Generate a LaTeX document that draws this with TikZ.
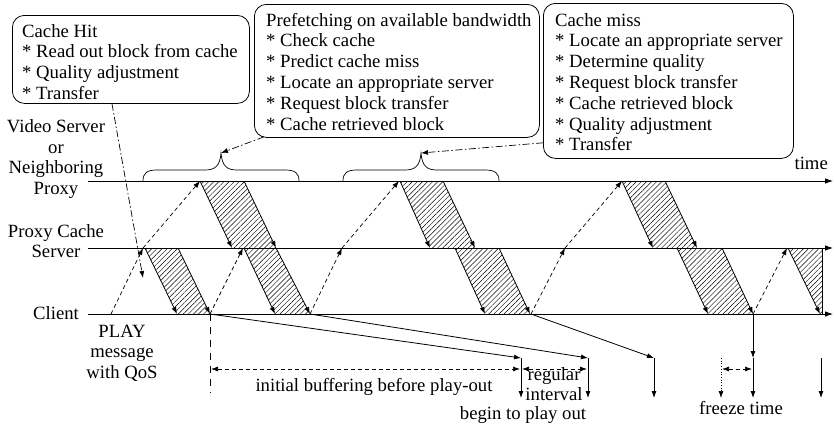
\documentclass[tikz,border=0pt]{standalone}
\usepackage{fontspec}
\setmainfont{Liberation Serif}
\usetikzlibrary{arrows.meta,patterns.meta,calc}

\begin{document}
\begin{tikzpicture}[x=1pt,y=-1pt,
  every node/.style={inner sep=0pt,font=\fontsize{18.7}{20.8}\selectfont},
  axis/.style={line width=0.8pt,-{Latex[length=8pt,width=5.5pt]}},
  edge/.style={line width=0.8pt,-{Latex[length=7pt,width=5pt]}},
  req/.style={line width=0.7pt,dash pattern=on 4pt off 3pt,-{Latex[length=7pt,width=5pt]}},
  callout/.style={line width=0.7pt,dash pattern=on 7pt off 2.5pt on 1.5pt off 2.5pt,-{Latex[length=7pt,width=5pt]}},
  span/.style={line width=0.7pt,dash pattern=on 4pt off 3pt,{Latex[length=7pt,width=5pt]}-{Latex[length=7pt,width=5pt]}},
  hatch/.style={pattern={Lines[angle=45,distance=3.6pt,line width=0.45pt]}},
  box/.style={draw,rounded corners=12pt,line width=0.8pt,anchor=north west},
  txt/.style={anchor=base west},
  lbl/.style={anchor=base}]
\useasboundingbox (0,0) rectangle (834,426);

% ---- callout boxes ----
\node[box,minimum width=237pt,minimum height=88pt] (hit) at (12,15) {};
\node[box,minimum width=285pt,minimum height=133pt] (pref) at (254,4) {};
\node[box,minimum width=250pt,minimum height=155pt] (miss) at (543,3) {};

\foreach \t [count=\i from 0] in {Cache Hit,* Read out block from cache,* Quality adjustment,* Transfer}
  \node[txt] (hit-\i) at (22,{37+20.8*\i}) {\t};
\foreach \t [count=\i from 0] in {Prefetching on available bandwidth,* Check cache,* Predict cache miss,* Locate an appropriate server,* Request block transfer,* Cache retrieved block}
  \node[txt] (pref-\i) at (266,{26+20.8*\i}) {\t};
\foreach \t [count=\i from 0] in {Cache miss,* Locate an appropriate server,* Determine quality,* Request block transfer,* Cache retrieved block,* Quality adjustment,* Transfer}
  \node[txt] (miss-\i) at (555,{26+20.8*\i}) {\t};

% ---- row labels ----
\node[lbl] (vs-1) at (56,132.5) {Video Server};
\node[lbl] (vs-2) at (56,153) {or};
\node[lbl] (vs-3) at (56,173.5) {Neighboring};
\node[lbl] (vs-4) at (56,194) {Proxy};
\node[lbl] (pc-1) at (56,237) {Proxy Cache};
\node[lbl] (pc-2) at (56,257.5) {Server};
\node[lbl] (cl) at (56,319.5) {Client};
\node[anchor=base east] (time) at (828,169) {time};

% ---- hatched transfer blocks ----
\foreach \a/\b/\c/\d/\ya/\yb in {200/244/232/276/181/248,400/443/430/475/181/248,622/665/653/697/181/248,
  145/178/177/210/248/314,244/276/275/310/248/314,455/499/485/530/248/314,677/722/708/753/248/314}
  \fill[hatch] (\a,\ya) -- (\b,\ya) -- (\d,\yb) -- (\c,\yb) -- cycle;
\fill[hatch] (788,248) -- (822,248) -- (822,314) -- (820,314) -- cycle;

% ---- time lines ----
\coordinate (srvL) at (88,181); \coordinate (srvR) at (833,181);
\coordinate (pxyL) at (88,248); \coordinate (pxyR) at (833,248);
\coordinate (cliL) at (88,314); \coordinate (cliR) at (833,314);
\draw[axis] (srvL) -- (srvR);
\draw[axis] (pxyL) -- (pxyR);
\draw[axis] (cliL) -- (cliR);

% ---- block edges ----
\foreach \a/\b/\c/\d/\ya/\yb in {200/244/232/276/181/248,400/443/430/475/181/248,622/665/653/697/181/248,
  145/178/177/210/248/314,244/276/275/310/248/314,455/499/485/530/248/314,677/722/708/753/248/314}{
  \draw[edge] (\a,\ya) -- (\c,\yb);
  \draw[edge] (\b,\ya) -- (\d,\yb);
}
\draw[edge] (788,248) -- (820,314);
\draw[line width=0.8pt] (822,248) -- (822,314);

% ---- requests ----
\foreach \xa/\ya/\xb/\yb in {111/314/143/248,143/248/200/181,210/314/243/248,310/314/342/248,342/248/399/181,
  531/314/565/248,565/248/622/181,753/314/787/248}
  \draw[req] (\xa,\ya) -- (\xb,\yb);

% ---- braces over the server line ----
\foreach \a/\b [count=\k] in {143/299,343/499}{
  \pgfmathsetmacro\m{(\a+\b)/2}
  \draw[line width=0.7pt] (\a,181) .. controls (\a,173) and (\a+4,170) .. (\a+14,170) -- (\m-16,170)
    .. controls (\m-6,170) and (\m-1,166) .. (\m,153)
    .. controls (\m+1,166) and (\m+6,170) .. (\m+16,170) -- (\b-14,170)
    .. controls (\b-4,170) and (\b,173) .. (\b,181);
  \coordinate (brace\k) at (\m,153);
}

% ---- callout pointers ----
\coordinate (hitmark) at (143,278);
\draw[callout] ($(hit.south west)+(100,0)$) -- (hitmark);
\draw[callout] ($(pref.south west)+(10,-1)$) -- (brace1);
\draw[callout] ($(miss.south west)+(0,-16)$) -- (brace2);

% ---- play-out ----
\coordinate (p1) at (521,358); \coordinate (p2) at (588,358);
\coordinate (p3) at (654,358); \coordinate (p4) at (753,358);
\coordinate (p5) at (821,358); \coordinate (fz) at (721,358);
\draw[edge] (210,314) -- (p1);
\draw[edge] (310,314) -- (p2);
\draw[edge] (531,314) -- (p3);
\draw[edge] (753,314) -- (p4);
\foreach \p in {p1,p2,p3,p4,p5}
  \draw[edge] (\p) -- ++(0,40);
\draw[line width=0.7pt,dotted,-{Latex[length=7pt,width=5pt]}] (fz) -- ++(0,40);
\draw[line width=0.7pt,dash pattern=on 7pt off 6pt] (210,314) -- (210,393);

\draw[span] (211,369) -- (520,369);
\draw[span] (522,369) -- (587,369);
\draw[span] (722,369) -- (752,369);

% ---- bottom labels ----
\node[lbl] (play-1) at (122,337) {PLAY};
\node[lbl] (play-2) at (122,357.5) {message};
\node[lbl] (play-3) at (122,378) {with QoS};
\node[lbl] (ib) at (374,391) {initial buffering before play-out};
\node[lbl] (ri-1) at (554,380) {regular};
\node[lbl] (ri-2) at (554,400) {interval};
\node[lbl] (bp) at (523,419) {begin to play out};
\node[lbl] (ft) at (741,414) {freeze time};
\end{tikzpicture}
\end{document}
